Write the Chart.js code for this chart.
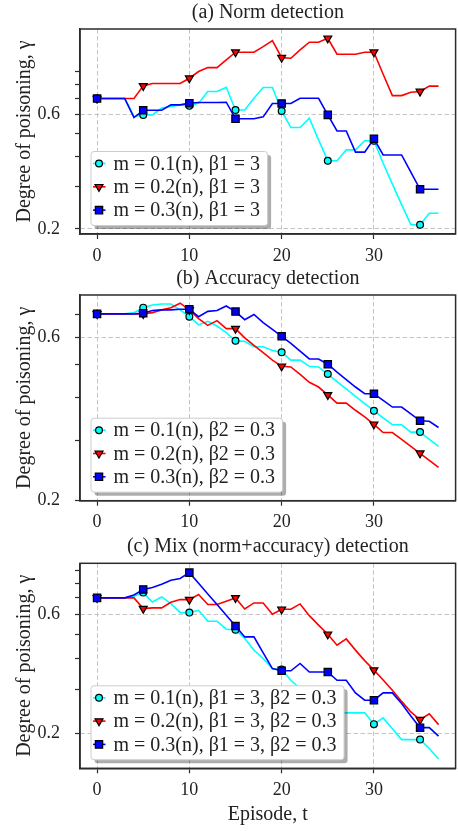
<!DOCTYPE html>
<html>
<head>
<meta charset="utf-8">
<script src="https://cdn.jsdelivr.net/npm/chart.js@4.4.1/dist/chart.umd.min.js"></script>
<style>
  html, body { margin: 0; padding: 0; background: #fff; overflow: hidden; }
  .panel { position: absolute; left: 0; }
</style>
</head>
<body>
<div class="panel" style="top:0px"><canvas id="normChart" width="462" height="264"></canvas></div>
<div class="panel" style="top:264px"><canvas id="accChart" width="462" height="265"></canvas></div>
<div class="panel" style="top:529px"><canvas id="mixChart" width="462" height="302"></canvas></div>
<script>
var episodes = [0, 1, 2, 3, 4, 5, 6, 7, 8, 9, 10, 11, 12, 13, 14, 15, 16, 17, 18, 19,
                20, 21, 22, 23, 24, 25, 26, 27, 28, 29, 30, 31, 32, 33, 34, 35, 36, 37];
var xTicks = [0, 10, 20, 30];
var yTicks = [0.2, 0.3, 0.4, 0.5, 0.6, 0.7, 0.8, 0.9];
var yLabelTicks = [0.2, 0.6];

// (a) norm detection
var normLabels = ["m = 0.1(n), β1 = 3", "m = 0.2(n), β1 = 3", "m = 0.3(n), β1 = 3"];
var normM1 = [0.697, 0.697, 0.697, 0.697, 0.587, 0.596, 0.596, 0.636, 0.646, 0.656,
              0.650, 0.667, 0.746, 0.746, 0.777, 0.625, 0.625, 0.699, 0.775, 0.775,
              0.619, 0.528, 0.528, 0.577, 0.469, 0.384, 0.384, 0.426, 0.426, 0.465,
              0.465, 0.375, 0.307, 0.252, 0.208, 0.208, 0.232, 0.232];
var normM2 = [0.697, 0.697, 0.697, 0.697, 0.697, 0.787, 0.805, 0.805, 0.805, 0.805,
              0.847, 0.903, 0.938, 0.938, 1.010, 1.087, 1.087, 1.087, 1.147, 1.215,
              1.032, 1.026, 1.111, 1.196, 1.196, 1.242, 1.066, 1.066, 1.066, 1.087,
              1.087, 0.880, 0.717, 0.717, 0.741, 0.746, 0.785, 0.785];
var normM3 = [0.697, 0.697, 0.697, 0.697, 0.581, 0.623, 0.623, 0.623, 0.656, 0.656,
              0.667, 0.671, 0.671, 0.671, 0.673, 0.574, 0.574, 0.574, 0.585, 0.665,
              0.665, 0.665, 0.699, 0.699, 0.699, 0.596, 0.511, 0.511, 0.417, 0.417,
              0.474, 0.406, 0.406, 0.406, 0.344, 0.292, 0.292, 0.292];

// (b) accuracy detection
var accLabels = ["m = 0.1(n), β2 = 0.3", "m = 0.2(n), β2 = 0.3", "m = 0.3(n), β2 = 0.3"];
var accM1 = [0.701, 0.701, 0.701, 0.701, 0.707, 0.731, 0.744, 0.749, 0.749, 0.720,
             0.688, 0.651, 0.667, 0.646, 0.618, 0.585, 0.583, 0.562, 0.562, 0.548,
             0.542, 0.514, 0.514, 0.493, 0.491, 0.468, 0.445, 0.424, 0.403, 0.384,
             0.366, 0.349, 0.333, 0.333, 0.317, 0.317, 0.302, 0.288];
var accM2 = [0.701, 0.701, 0.701, 0.701, 0.701, 0.701, 0.707, 0.720, 0.730, 0.753,
             0.720, 0.679, 0.649, 0.670, 0.635, 0.635, 0.597, 0.567, 0.540, 0.514,
             0.493, 0.491, 0.467, 0.443, 0.429, 0.407, 0.385, 0.385, 0.367, 0.351,
             0.334, 0.316, 0.316, 0.302, 0.288, 0.275, 0.262, 0.250];
var accM3 = [0.701, 0.701, 0.701, 0.701, 0.701, 0.704, 0.717, 0.720, 0.720, 0.723,
             0.723, 0.688, 0.713, 0.717, 0.739, 0.712, 0.674, 0.698, 0.661, 0.632,
             0.603, 0.575, 0.546, 0.518, 0.518, 0.500, 0.474, 0.451, 0.429, 0.410,
             0.410, 0.392, 0.375, 0.375, 0.358, 0.342, 0.341, 0.327];

// (c) mix detection
var mixLabels = ["m = 0.1(n), β1 = 3, β2 = 0.3", "m = 0.2(n), β1 = 3, β2 = 0.3", "m = 0.3(n), β1 = 3, β2 = 0.3"];
var mixM1 = [0.700, 0.700, 0.700, 0.700, 0.711, 0.735, 0.674, 0.706, 0.664, 0.611,
             0.611, 0.624, 0.564, 0.564, 0.524, 0.522, 0.481, 0.432, 0.400, 0.364,
             0.361, 0.327, 0.303, 0.281, 0.264, 0.248, 0.242, 0.242, 0.242, 0.242,
             0.218, 0.231, 0.209, 0.189, 0.189, 0.189, 0.174, 0.158];
var mixM2 = [0.700, 0.700, 0.700, 0.700, 0.700, 0.634, 0.638, 0.638, 0.672, 0.689,
             0.689, 0.722, 0.658, 0.658, 0.679, 0.700, 0.632, 0.668, 0.668, 0.602,
             0.630, 0.630, 0.662, 0.594, 0.544, 0.500, 0.452, 0.479, 0.432, 0.392,
             0.359, 0.328, 0.298, 0.269, 0.244, 0.227, 0.240, 0.217];
var mixM3 = [0.700, 0.700, 0.700, 0.700, 0.719, 0.756, 0.770, 0.794, 0.824, 0.837,
             0.884, 0.801, 0.726, 0.658, 0.596, 0.540, 0.488, 0.488, 0.421, 0.364,
             0.357, 0.357, 0.382, 0.353, 0.353, 0.353, 0.327, 0.327, 0.291, 0.272,
             0.272, 0.291, 0.291, 0.264, 0.235, 0.211, 0.211, 0.195];

var seriesColors = ["#00ffff", "#ff0000", "#0000ff"];
var seriesMarkers = ["circle", "triangle", "rect"];
var markerRotation = [0, 180, 0];
var markerRadius = [3.4, 4.6, 5.2];

Chart.defaults.font.family = "'Liberation Serif', 'Times New Roman', serif";
Chart.defaults.color = "#222";

// frame on all four sides + matplotlib-like legend in the lower left
var boxLegend = {
    id: 'boxLegend',
    afterDatasetsDraw: function(chart) {
        var ctx = chart.ctx;
        var area = chart.chartArea;
        ctx.save();
        ctx.strokeStyle = "#2b2b2b";
        ctx.lineWidth = 1.5;
        ctx.strokeRect(area.left, area.top, area.right - area.left, area.bottom - area.top);

        ctx.font = "20px 'Liberation Serif'";
        var sets = chart.data.datasets;
        var textW = 0;
        sets.forEach(function(ds) { textW = Math.max(textW, ctx.measureText(ds.label).width); });
        var h = 74;
        var x = area.left + 11;
        var y = area.bottom - 8.5 - h;
        var w = 22.5 + textW + 7.5;

        ctx.fillStyle = "rgba(0,0,0,0.32)";
        ctx.beginPath();
        ctx.roundRect(x + 3.5, y + 3.5, w, h, 3);
        ctx.fill();
        ctx.fillStyle = "#fff";
        ctx.strokeStyle = "#cccccc";
        ctx.lineWidth = 1;
        ctx.beginPath();
        ctx.roundRect(x, y, w, h, 3);
        ctx.fill();
        ctx.stroke();

        sets.forEach(function(ds, i) {
            var cy = y + 12 + i * 23.3;
            ctx.strokeStyle = ds.borderColor;
            ctx.lineWidth = ds.borderWidth;
            ctx.beginPath();
            ctx.moveTo(x + 2, cy);
            ctx.lineTo(x + 14.5, cy);
            ctx.stroke();
            ctx.fillStyle = ds.backgroundColor;
            ctx.strokeStyle = "#000";
            ctx.lineWidth = 1.2;
            Chart.helpers.drawPoint(ctx, {
                pointStyle: ds.pointStyle,
                rotation: ds.pointRotation,
                radius: markerRadius[i],
                borderWidth: 1.2
            }, x + 8, cy);
            ctx.fillStyle = "#222";
            ctx.textBaseline = "middle";
            ctx.textAlign = "left";
            ctx.fillText(ds.label, x + 22.5, cy + 1);
        });
        ctx.restore();
    }
};

function logRange(arrays, fixedMin) {
    var all = [].concat.apply([], arrays);
    var lo = Math.log10(Math.min.apply(null, all));
    var hi = Math.log10(Math.max.apply(null, all));
    var m = (hi - lo) * 0.05;
    return { min: fixedMin || Math.pow(10, lo - m), max: Math.pow(10, hi + m) };
}

function makePanel(id, title, titlePad, labels, series, axisHeight, fixedMin, showXTitle) {
    var range = logRange(series, fixedMin);
    var datasets = series.map(function(values, i) {
        return {
            label: labels[i],
            data: episodes.map(function(t, k) { return { x: t, y: values[k] }; }),
            borderColor: seriesColors[i],
            backgroundColor: seriesColors[i],
            borderWidth: 1.6,
            tension: 0,
            pointStyle: seriesMarkers[i],
            pointRotation: markerRotation[i],
            pointRadius: function(c) { return episodes[c.dataIndex] % 5 === 0 ? markerRadius[i] : 0; },
            pointBorderColor: "#000",
            pointBackgroundColor: seriesColors[i],
            pointBorderWidth: 1.2,
            order: 3 - i
        };
    });

    return new Chart(document.getElementById(id), {
        type: 'line',
        data: { datasets: datasets },
        plugins: [boxLegend],
        options: {
            responsive: false,
            animation: false,
            layout: { padding: { left: 0, right: 2.5, top: 0, bottom: 0 } },
            plugins: {
                legend: { display: false },
                tooltip: { enabled: false },
                title: {
                    display: true,
                    fullSize: false,
                    text: title,
                    color: "#222",
                    font: { size: 20, weight: 'normal' },
                    padding: titlePad
                }
            },
            scales: {
                x: {
                    type: 'linear',
                    min: -1.85,
                    max: 38.85,
                    afterBuildTicks: function(s) { s.ticks = xTicks.map(function(v) { return { value: v }; }); },
                    afterFit: function(s) { s.height = axisHeight; },
                    ticks: { font: { size: 18 }, color: "#222", padding: 6, autoSkip: false, maxRotation: 0 },
                    grid: { color: "#c4c4c4", lineWidth: 1, tickColor: "#2b2b2b", tickLength: 5, tickWidth: 1.2 },
                    border: { color: "#2b2b2b", width: 1.5, dash: [4.5, 2.5] },
                    title: {
                        display: showXTitle,
                        text: 'Episode, t',
                        color: "#222",
                        font: { size: 20 },
                        padding: { top: 0, bottom: 4 }
                    }
                },
                y: {
                    type: 'logarithmic',
                    min: range.min,
                    max: range.max,
                    afterBuildTicks: function(s) {
                        s.ticks = yTicks.filter(function(v) { return v >= s.min && v <= s.max; })
                                        .map(function(v) { return { value: v }; });
                    },
                    afterFit: function(s) { s.width = 80; },
                    ticks: {
                        font: { size: 18 },
                        color: "#222",
                        padding: 15,
                        autoSkip: false,
                        callback: function(v) { return yLabelTicks.indexOf(v) >= 0 ? v.toFixed(1) : ''; }
                    },
                    grid: {
                        color: function(c) {
                            return c.tick && yLabelTicks.indexOf(c.tick.value) >= 0 ? "#c4c4c4" : "rgba(0,0,0,0)";
                        },
                        lineWidth: 1,
                        tickColor: "#2b2b2b",
                        tickLength: 5,
                        tickWidth: 1.2
                    },
                    border: { color: "#2b2b2b", width: 1.5, dash: [4.5, 2.5] },
                    title: {
                        display: true,
                        text: 'Degree of poisoning, γ',
                        color: "#222",
                        font: { size: 20 },
                        padding: { top: 13, bottom: 0 }
                    }
                }
            }
        }
    });
}

var normChart = makePanel("normChart", "(a) Norm detection", { top: 1, bottom: 4 },
    normLabels, [normM1, normM2, normM3], 30, null, false);
var accChart = makePanel("accChart", "(b) Accuracy detection", { top: 2.5, bottom: 4.5 },
    accLabels, [accM1, accM2, accM3], 28.3, 0.2, false);
var mixChart = makePanel("mixChart", "(c) Mix (norm+accuracy) detection", { top: 6, bottom: 4.3 },
    mixLabels, [mixM1, mixM2, mixM3], 62.7, null, true);
</script>
</body>
</html>
